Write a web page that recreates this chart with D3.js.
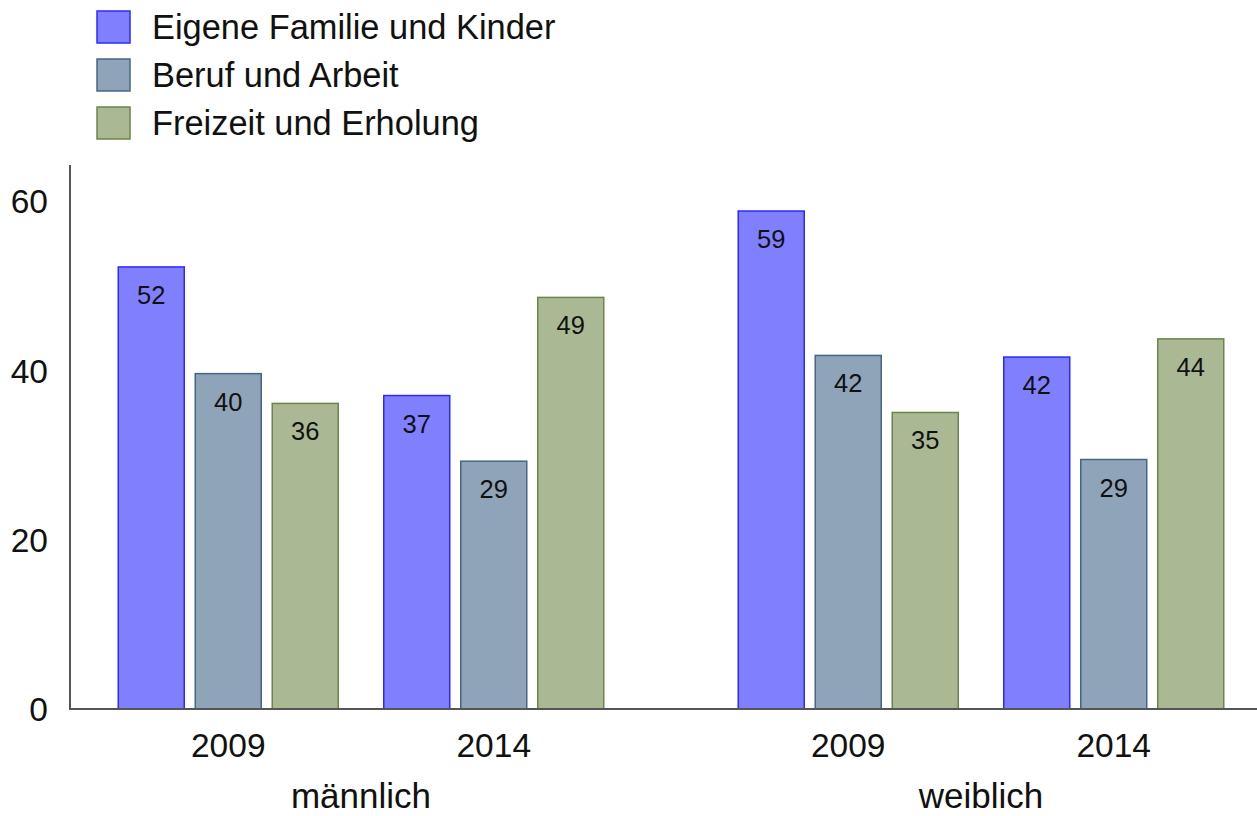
<!DOCTYPE html>
<html>
<head>
<meta charset="utf-8">
<script src="https://cdn.jsdelivr.net/npm/d3@7"></script>
<style>
  html, body { margin: 0; padding: 0; background: #fff; }
  text { font-family: "Liberation Sans", Arial, sans-serif; }
</style>
</head>
<body>
<svg id="chart" width="1257" height="816"></svg>
<script>
const genders = ["männlich", "weiblich"];
const years = ["2009", "2014"];
const series = ["Eigene Familie und Kinder", "Beruf und Arbeit", "Freizeit und Erholung"];
const fills = ["#8080ff", "#8fa4b8", "#aab994"];
const strokes = ["#2a2aff", "#456587", "#6a8549"];
// values per gender and year, one per series
const maennlich2009 = [52.25, 39.64, 36.12];
const maennlich2014 = [37.05, 29.29, 48.65];
const weiblich2009 = [58.86, 41.79, 35.05];
const weiblich2014 = [41.6, 29.49, 43.75];
const yTicks = [0, 20, 40, 60];

const data = [
  {g: "männlich", y: "2009", v: maennlich2009},
  {g: "männlich", y: "2014", v: maennlich2014},
  {g: "weiblich", y: "2009", v: weiblich2009},
  {g: "weiblich", y: "2014", v: weiblich2014}
];

const svg = d3.select("#chart");
const x0 = d3.scaleBand().domain(genders).range([95.5, 1246.5]).paddingInner(0.1435).paddingOuter(0);
const x1 = d3.scaleBand().domain(years).range([0, x0.bandwidth()]).padding(0);
const x2 = d3.scaleBand().domain(series).range([0, x1.bandwidth()]).paddingInner(0.143).paddingOuter(0.2955);
const y = d3.scaleLinear().domain([0, 64.3]).range([709, 165]);

// bars
data.forEach(d => {
  const gx = x0(d.g) + x1(d.y);
  const grp = svg.append("g").attr("transform", `translate(${gx},0)`);
  series.forEach((s, i) => {
    grp.append("rect")
      .attr("x", x2(s)).attr("y", y(d.v[i]))
      .attr("width", x2.bandwidth()).attr("height", y(0) - y(d.v[i]))
      .attr("fill", fills[i]).attr("stroke", strokes[i]).attr("stroke-width", 1.5);
    grp.append("text")
      .attr("x", x2(s) + x2.bandwidth() / 2).attr("y", y(d.v[i]) + 37)
      .attr("text-anchor", "middle").attr("font-size", 25.5).attr("fill", "#111")
      .text(Math.round(d.v[i]));
  });
  svg.append("text")
    .attr("x", gx + x1.bandwidth() / 2).attr("y", 757)
    .attr("text-anchor", "middle").attr("font-size", 33.5).attr("fill", "#111")
    .text(d.y);
});

genders.forEach(g => {
  svg.append("text")
    .attr("x", x0(g) + x0.bandwidth() / 2).attr("y", 808)
    .attr("text-anchor", "middle").attr("font-size", 35).attr("fill", "#111")
    .text(g);
});

// axes lines
svg.append("line").attr("x1", 70).attr("x2", 70).attr("y1", y(64.3)).attr("y2", y(0))
  .attr("stroke", "#555").attr("stroke-width", 2);
svg.append("line").attr("x1", 69).attr("x2", 1257).attr("y1", y(0)).attr("y2", y(0))
  .attr("stroke", "#555").attr("stroke-width", 2);

// y tick labels
yTicks.forEach(t => {
  svg.append("text")
    .attr("x", 48).attr("y", y(t) + 12)
    .attr("text-anchor", "end").attr("font-size", 33.5).attr("fill", "#111")
    .text(t);
});

// legend
series.forEach((s, i) => {
  const ly = 11 + i * 48;
  svg.append("rect").attr("x", 97).attr("y", ly).attr("width", 33).attr("height", 32)
    .attr("fill", fills[i]).attr("stroke", strokes[i]).attr("stroke-width", 1.5);
  svg.append("text").attr("x", 152).attr("y", ly + 28)
    .attr("font-size", 34.4).attr("fill", "#111").text(s);
});
</script>
</body>
</html>
